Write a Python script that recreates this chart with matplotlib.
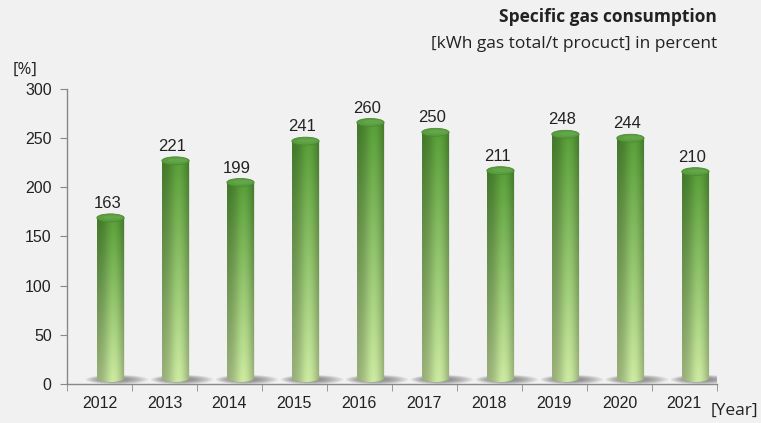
import numpy as np
import matplotlib.pyplot as plt
from matplotlib.patches import Ellipse, PathPatch
from matplotlib.path import Path

years = ["2012", "2013", "2014", "2015", "2016", "2017", "2018", "2019", "2020", "2021"]
values = [163, 221, 199, 241, 260, 250, 211, 248, 244, 210]

bg = "#f1f1f1"
text_col = "#222222"

fig = plt.figure(figsize=(7.61, 4.23), dpi=100, facecolor=bg)
ax = fig.add_axes([0.088, 0.0922, 0.854, 0.6974], facecolor=bg)

bar_w = 0.42
shift = 0.17      # cylinders sit slightly right of the slot centre
lift = 6          # base of each cylinder floats a little above zero
ell_h = 8         # full height of the end ellipses in data units


def cylinder_texture(n=200):
    # horizontal shading: dark left edge, bright band right of centre
    xs = np.linspace(0, 1, n)
    shade = 0.8 + 0.28 * np.exp(-((xs - 0.6) / 0.33) ** 2) - 0.08 * xs ** 6
    ys = np.linspace(0, 1, n)[:, None]
    top = np.array([82, 148, 52]) / 255
    bottom = np.array([190, 218, 150]) / 255
    base = top * (1 - ys[..., None]) + bottom * ys[..., None]
    img = base * shade[None, :, None]
    return np.clip(img, 0, 1)


tex = cylinder_texture()

for i, v in enumerate(values):
    cx = i + shift
    x0, x1 = cx - bar_w / 2, cx + bar_w / 2
    y0, y1 = lift, v + lift

    # soft floor shadow, reaching further to the right
    for k in range(9):
        ax.add_patch(Ellipse((cx + 0.1 - k * 0.006, lift - 1.5), bar_w * (2.3 - k * 0.15),
                             ell_h * (1.2 - k * 0.08),
                             facecolor="#4a4a4a", edgecolor="none", alpha=0.08, zorder=2))

    # body clipped to rectangle with rounded bottom
    t = np.linspace(np.pi, 2 * np.pi, 40)
    pts = [(cx + bar_w / 2 * np.cos(a), y0 + ell_h / 2 * np.sin(a)) for a in t]
    pts += [(x1, y1), (x0, y1), pts[0]]
    clip = PathPatch(Path(pts, closed=True), facecolor="none", edgecolor="none", transform=ax.transData)
    ax.add_patch(clip)
    im = ax.imshow(tex, extent=[x0, x1, y0 - ell_h / 2, y1], aspect="auto", origin="upper",
                   zorder=3, interpolation="bilinear")
    im.set_clip_path(clip)

    # top cap
    ax.add_patch(Ellipse((cx, y1), bar_w, ell_h, facecolor="#5a9e40", edgecolor="#4a8a32",
                         linewidth=0.6, zorder=4))
    ax.add_patch(Ellipse((cx + 0.03, y1 + 0.5), bar_w * 0.7, ell_h * 0.5, facecolor="#6aab50",
                         edgecolor="none", alpha=0.6, zorder=4))

    ax.text(i + 0.12, v + 13, str(v), ha="center", va="bottom", fontsize=12,
            color=text_col, family="Liberation Sans")

ax.set_xlim(-0.5, len(years) - 0.5)
ax.set_ylim(0, 300)
ax.set_yticks(range(0, 301, 50))
ax.set_xticks(range(len(years)))
ax.set_xticklabels(years)
ax.set_xticks(np.arange(-0.5, len(years), 1), minor=True)
ax.tick_params(axis="x", which="major", length=0, pad=9, labelsize=11.5, labelcolor=text_col)
ax.tick_params(axis="x", which="minor", length=5, color="#888888", direction="out")
ax.tick_params(axis="y", length=5, color="#888888", pad=6, labelsize=11.5, labelcolor=text_col)
for lab in ax.get_xticklabels() + ax.get_yticklabels():
    lab.set_family("Liberation Sans")

for side in ["top", "right"]:
    ax.spines[side].set_visible(False)
for side in ["left", "bottom"]:
    ax.spines[side].set_color("#888888")
    ax.spines[side].set_linewidth(1)

fig.text(0.942, 0.96, "Specific gas consumption", ha="right", va="center", fontsize=12.5,
         fontweight="bold", color=text_col, family="Open Sans")
fig.text(0.942, 0.895, "[kWh gas total/t procuct] in percent", ha="right", va="center", fontsize=12.5,
         color=text_col, family="Open Sans")
fig.text(0.016, 0.835, "[%]", ha="left", va="center", fontsize=12, color=text_col, family="Open Sans")
fig.text(0.997, 0.028, "[Year]", ha="right", va="center", fontsize=12.5, color=text_col,
         fontweight="medium", family="Open Sans")

fig.savefig("out.png", dpi=100, facecolor=bg)
